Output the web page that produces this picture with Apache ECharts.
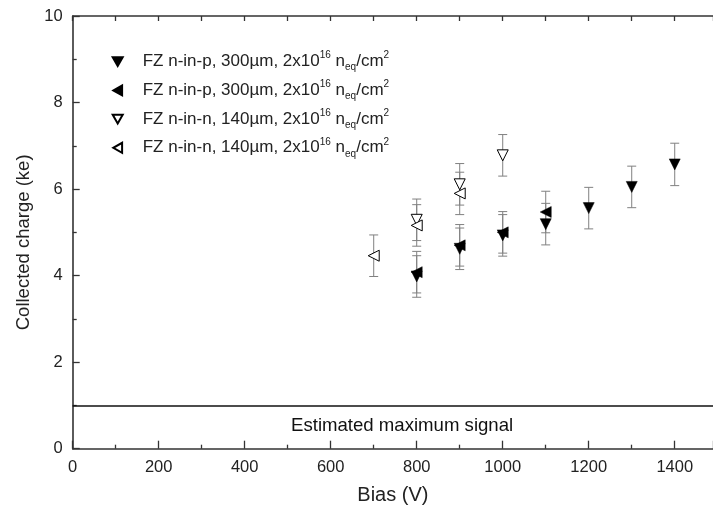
<!DOCTYPE html>
<html>
<head>
<meta charset="utf-8">
<script src="https://cdn.jsdelivr.net/npm/echarts@6/dist/echarts.min.js"></script>
<style>html,body{margin:0;padding:0;background:#fff}#c{width:713px;height:508px}</style>
</head>
<body>
<div id="c"></div>
<script>
// ---- data ----
var bias1 = [800, 900, 1000, 1100, 1200, 1300, 1400];
var charge1 = [3.98, 4.62, 4.93, 5.19, 5.56, 6.05, 6.57];
var err1 = [0.48, 0.48, 0.48, 0.48, 0.48, 0.48, 0.49];

var bias2 = [800, 900, 1000, 1100];
var charge2 = [4.08, 4.70, 5.00, 5.47];
var err2 = [0.48, 0.48, 0.48, 0.48];

var bias3 = [800, 900, 1000];
var charge3 = [5.29, 6.11, 6.78];
var err3 = [0.48, 0.48, 0.48];

var bias4 = [700, 800, 900];
var charge4 = [4.46, 5.16, 5.90];
var err4 = [0.48, 0.48, 0.49];

var legendLabels = [
  'FZ n-in-p, 300\u00b5m, 2x10{sup|16} n{sub|eq}/cm{sup|2}',
  'FZ n-in-p, 300\u00b5m, 2x10{sup|16} n{sub|eq}/cm{sup|2}',
  'FZ n-in-n, 140\u00b5m, 2x10{sup|16} n{sub|eq}/cm{sup|2}',
  'FZ n-in-n, 140\u00b5m, 2x10{sup|16} n{sub|eq}/cm{sup|2}'
];
var seriesNames = ['s1', 's2', 's3', 's4'];
var maxSignal = 1;
var annotation = [[766, 0.53]];
var annotationText = 'Estimated maximum signal';
// the reference plot is cropped at the right edge, at about 1489 V
var xTicks = {min: 0, max: 1489, step: 200, lastLabel: 1400};
var yTicks = {min: 0, max: 10, step: 2};

// ---- chart ----
var FONT = "'Liberation Sans', Arial, sans-serif";
var TXT = '#222';
var AX = '#333';

// legend icons: 40x10 box with the triangle centred (M points fix the box)
var ICON_DOWN = 'path://M0,0 M40,10 M15,0.6 L25,0.6 L20,9.4 Z';
var ICON_LEFT = 'path://M0,0 M40,10 M24.4,0 L24.4,10 L15.6,5 Z';

function pts(xs, ys) { return xs.map(function (x, i) { return [x, ys[i]]; }); }
function errPts(xs, ys, es) { return xs.map(function (x, i) { return [x, ys[i], es[i]]; }); }

function errSeries(xs, ys, es) {
  return {
    type: 'custom',
    silent: true,
    z: 1,
    data: errPts(xs, ys, es),
    encode: {x: 0, y: 1},
    renderItem: function (params, api) {
      var x = api.value(0), y = api.value(1), e = api.value(2);
      var top = api.coord([x, y + e]);
      var bot = api.coord([x, y - e]);
      var hw = 4.5;
      var st = {stroke: '#808080', lineWidth: 1, fill: null};
      return {
        type: 'group',
        children: [
          {type: 'line', shape: {x1: top[0], y1: top[1], x2: bot[0], y2: bot[1]}, style: st},
          {type: 'line', shape: {x1: top[0] - hw, y1: top[1], x2: top[0] + hw, y2: top[1]}, style: st},
          {type: 'line', shape: {x1: bot[0] - hw, y1: bot[1], x2: bot[0] + hw, y2: bot[1]}, style: st}
        ]
      };
    }
  };
}

function markSeries(name, xs, ys, rot, filled) {
  return {
    name: name,
    type: 'scatter',
    z: 3,
    symbol: 'triangle',
    symbolSize: 11,
    symbolRotate: rot,
    data: pts(xs, ys),
    itemStyle: filled
      ? {color: '#000', borderColor: '#000', borderWidth: 0.5, opacity: 1}
      : {color: '#fff', borderColor: '#000', borderWidth: 1, opacity: 1}
  };
}

var chart = echarts.init(document.getElementById('c'), null, {renderer: 'canvas'});
chart.setOption({
  animation: false,
  backgroundColor: '#fff',
  textStyle: {fontFamily: FONT},
  grid: {left: 72.7, top: 16, right: 0, bottom: 59.3, containLabel: false, outerBoundsMode: 'none'},
  legend: {
    orient: 'vertical',
    left: 96.7,
    top: 50.7,
    padding: 0,
    itemGap: 6.7,
    itemWidth: 40,
    itemHeight: 10,
    data: [
      {name: 's1', icon: ICON_DOWN},
      {name: 's2', icon: ICON_LEFT},
      {name: 's3', icon: ICON_DOWN},
      {name: 's4', icon: ICON_LEFT}
    ],
    selectedMode: false,
    formatter: function (n) { return legendLabels[seriesNames.indexOf(n)]; },
    textStyle: {
      fontFamily: FONT, fontSize: 17, color: TXT, lineHeight: 22,
      rich: {
        sup: {fontFamily: FONT, fontSize: 10, lineHeight: 12, verticalAlign: 'top', color: TXT},
        sub: {fontFamily: FONT, fontSize: 10, lineHeight: 12, verticalAlign: 'bottom', color: TXT}
      }
    }
  },
  xAxis: [{
    type: 'value',
    min: xTicks.min, max: xTicks.max, interval: xTicks.step,
    name: 'Bias (V)', nameLocation: 'middle', nameGap: 37,
    nameTextStyle: {fontSize: 20, color: TXT, fontFamily: FONT},
    axisLine: {show: true, onZero: false, lineStyle: {color: AX, width: 1.6}},
    axisTick: {show: true, inside: true, length: 8, lineStyle: {color: AX, width: 1.3}},
    minorTick: {show: true, splitNumber: 2, length: 4, lineStyle: {color: AX, width: 1.3}},
    axisLabel: {fontSize: 16.5, color: TXT, margin: 10, fontFamily: FONT,
      formatter: function (v) { return v > xTicks.lastLabel ? '' : String(v); }},
    splitLine: {show: false}
  }, {
    type: 'value', position: 'top',
    min: xTicks.min, max: xTicks.max, interval: 100,
    axisLine: {show: true, onZero: false, lineStyle: {color: AX, width: 1.6}},
    axisTick: {show: true, inside: true, length: 5, lineStyle: {color: AX, width: 1.3}},
    axisLabel: {show: false},
    splitLine: {show: false}
  }],
  yAxis: [{
    type: 'value',
    min: yTicks.min, max: yTicks.max, interval: yTicks.step,
    name: 'Collected charge (ke)', nameLocation: 'middle', nameGap: 38,
    nameTextStyle: {fontSize: 18.5, color: TXT, fontFamily: FONT, padding: [0, 20, 0, 0]},
    axisLine: {show: true, onZero: false, lineStyle: {color: AX, width: 1.6}},
    axisTick: {show: true, inside: true, length: 7, lineStyle: {color: AX, width: 1.3}},
    minorTick: {show: true, splitNumber: 2, length: 4, lineStyle: {color: AX, width: 1.3}},
    axisLabel: {fontSize: 16.5, color: TXT, margin: 10, fontFamily: FONT,
      formatter: function (v) { return String(v); }},
    splitLine: {show: false}
  }],
  series: [
    {
      type: 'scatter',
      silent: true,
      z: 2,
      symbolSize: 0.1,
      itemStyle: {color: '#fff', opacity: 1},
      data: annotation,
      label: {show: true, position: 'inside', formatter: annotationText,
        fontSize: 18.6, color: '#111', opacity: 1, fontFamily: FONT},
      emphasis: {disabled: true},
      markLine: {
        silent: true, symbol: 'none', animation: false,
        label: {show: false},
        lineStyle: {color: '#111', width: 1.6, type: 'solid'},
        data: [{yAxis: maxSignal}]
      }
    },
    errSeries(bias1, charge1, err1),
    errSeries(bias2, charge2, err2),
    errSeries(bias3, charge3, err3),
    errSeries(bias4, charge4, err4),
    markSeries('s1', bias1, charge1, 180, true),
    markSeries('s2', bias2, charge2, 90, true),
    markSeries('s3', bias3, charge3, 180, false),
    markSeries('s4', bias4, charge4, 90, false)
  ]
});
</script>
</body>
</html>
